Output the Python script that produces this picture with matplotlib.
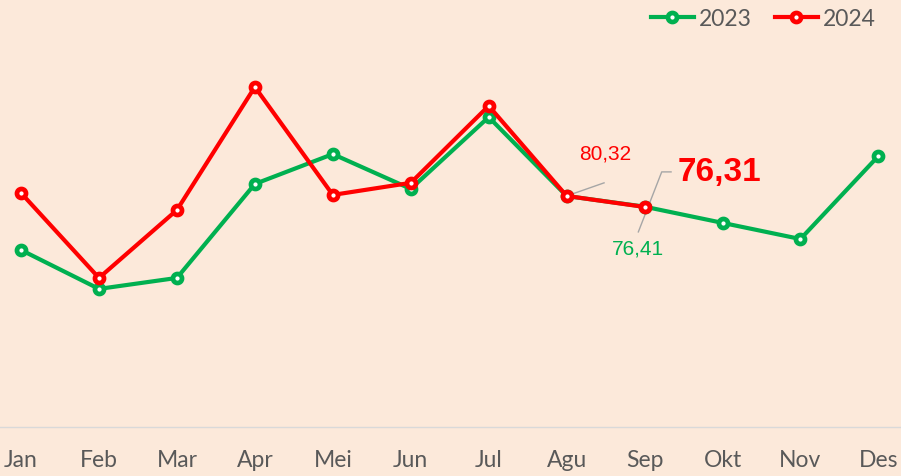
import matplotlib.pyplot as plt

# data
bulan = ["Jan", "Feb", "Mar", "Apr", "Mei", "Jun", "Jul", "Agu", "Sep", "Okt", "Nov", "Des"]
nilai_2023 = [60.6, 46.4, 50.4, 84.7, 95.6, 82.9, 109.1, 80.3, 76.41, 70.5, 64.6, 94.9]
nilai_2024 = [81.4, 50.4, 75.2, 120.1, 80.7, 85.1, 113.2, 80.32, 76.31]

bg = "#FCE9DA"
hijau = "#00B050"
merah = "#FF0000"
abu = "#595959"
garis = "#A6A6A6"

plt.rcParams["font.family"] = ["Lato", "DejaVu Sans"]

fig = plt.figure(figsize=(9.01, 4.77), dpi=100, facecolor=bg)
ax = fig.add_axes([0, 1 - 428 / 477, 1, 428 / 477])
ax.set_facecolor(bg)

x23 = list(range(len(nilai_2023)))
x24 = list(range(len(nilai_2024)))

ax.plot(x23, nilai_2023, color=hijau, lw=3, marker="o", ms=6.5, mew=3.4,
        mfc="white", mec=hijau, label="2023", zorder=3)
ax.plot(x24, nilai_2024, color=merah, lw=3, marker="o", ms=6.5, mew=3.4,
        mfc="white", mec=merah, label="2024", zorder=4)

ax.set_xlim(-0.27, 11.29)
ax.set_ylim(-4.0, 152.2)

# label data + garis penunjuk
ax.plot([7, 7.48], [nilai_2024[7], 85.1], color=garis, lw=1, zorder=2)
ax.text(7.5, 96.0, "80,32", color=merah, fontsize=15, ha="center", va="center",
        family="Liberation Sans")
ax.plot([7.92, 8.22, 8.34], [67.2, 89.1, 89.1], color=garis, lw=1, zorder=2)
ax.text(7.91, 61.3, "76,41", color=hijau, fontsize=15, ha="center", va="center",
        family="Liberation Sans")
ax.text(8.42, 89.1, "76,31", color=merah, fontsize=24, fontweight="bold",
        ha="left", va="center", family="Liberation Sans")

ax.set_xticks(x23)
ax.set_xticklabels(bulan, fontsize=16.5, color=abu)
ax.tick_params(axis="x", length=0, pad=16)
ax.set_yticks([])
for s in ["top", "left", "right"]:
    ax.spines[s].set_visible(False)
ax.spines["bottom"].set_color("#D9D9D9")
ax.spines["bottom"].set_linewidth(1)

leg = ax.legend(loc="upper right", bbox_to_anchor=(0.987, 1.01), ncol=2, frameon=False,
                fontsize=16.5, handlelength=1.9, handletextpad=0.2, columnspacing=1.0,
                borderaxespad=0.2)
for t in leg.get_texts():
    t.set_color(abu)

fig.savefig("out.png", dpi=100, facecolor=bg)
